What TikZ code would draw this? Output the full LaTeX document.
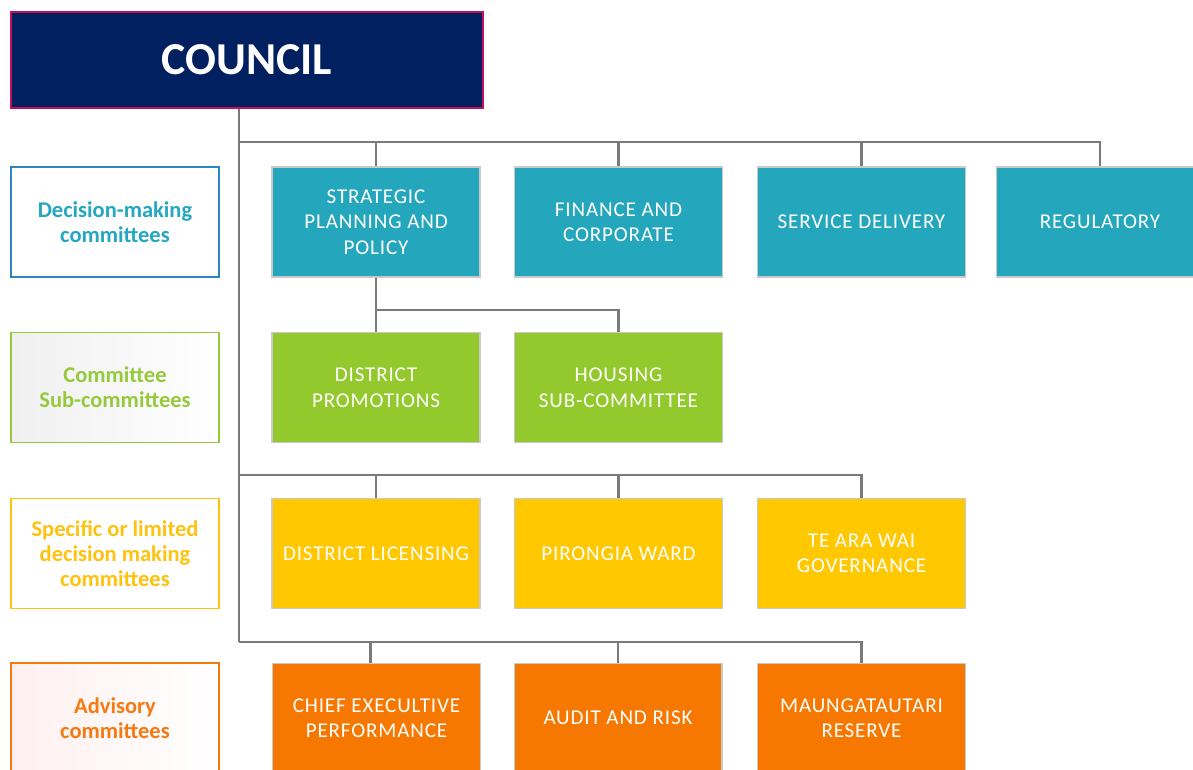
\documentclass[tikz,border=0pt]{standalone}
\usepackage{fontspec}
\setmainfont{Carlito}
\newfontfamily\unitfamily[LetterSpace=4]{Carlito}
\definecolor{navy}{HTML}{002060}
\definecolor{crimson}{HTML}{C0105E}
\definecolor{tblue}{HTML}{2A86BE}
\definecolor{tteal}{HTML}{25A7C1}
\definecolor{teal}{HTML}{24A6BD}
\definecolor{lime}{HTML}{93C92C}
\definecolor{tlime}{HTML}{96CA3C}
\definecolor{amber}{HTML}{FFC800}
\definecolor{tamber}{HTML}{FFC20E}
\definecolor{tangerine}{HTML}{F77800}
\definecolor{ttangerine}{HTML}{F57A12}
\definecolor{frame}{HTML}{C9C9C9}
\definecolor{wire}{HTML}{7A7A7A}
\tikzset{
  unit/.style={draw=frame,line width=0.6pt,minimum width=4.16cm,minimum height=2.2cm,
    align=center,text=white,inner sep=2pt,font=\unitfamily\fontsize{12}{14.5}\selectfont},
  tier/.style={line width=0.9pt,fill=white,minimum width=4.16cm,minimum height=2.2cm,
    align=center,inner sep=2pt,font=\fontsize{12.8}{14.3}\selectfont\bfseries},
  link/.style={draw=wire,line width=1.3pt}
}
\begin{document}
\begin{tikzpicture}[x=0.02cm,y=-0.02cm]
\useasboundingbox (0,0) rectangle (1193,769);
\clip (0,0) rectangle (1193,769);

\node[fill=navy,draw=crimson,line width=0.8pt,minimum width=9.44cm,minimum height=1.92cm,
  text=white,font=\fontsize{26}{30}\selectfont\bfseries] (council) at (247,60) {COUNCIL};

% tiers down the left
\node[tier,draw=tblue,text=tteal] (decision) at (115,222) {Decision-making\\committees};
\node[tier,draw=tlime,text=tlime,left color=black!6,right color=white]
  (subcomm) at (115,387.5) {Committee\\Sub-committees};
\node[tier,draw=tamber,text=tamber] (specific) at (115,553.5) {Specific or limited\\decision making\\committees};
\node[tier,draw=ttangerine,text=ttangerine,left color=red!6,right color=white]
  (advisory) at (115,718) {Advisory\\committees};

% committees
\node[unit,fill=teal] (strategic) at (376,222) {STRATEGIC\\PLANNING AND\\POLICY};
\node[unit,fill=teal] (finance) at (618.5,222) {FINANCE AND\\CORPORATE};
\node[unit,fill=teal] (service) at (861.5,222) {SERVICE DELIVERY};
\node[unit,fill=teal] (regulatory) at (1100,222) {REGULATORY};

\node[unit,fill=lime] (promotions) at (376,387.5) {DISTRICT\\PROMOTIONS};
\node[unit,fill=lime] (housing) at (618.5,387.5) {HOUSING\\SUB-COMMITTEE};

\node[unit,fill=amber] (licensing) at (376,553.5) {DISTRICT LICENSING};
\node[unit,fill=amber] (pirongia) at (618.5,553.5) {PIRONGIA WARD};
\node[unit,fill=amber] (tearawai) at (861.5,553.5) {TE ARA WAI\\GOVERNANCE};

\node[unit,fill=tangerine] (chief) at (376.5,718) {CHIEF EXECULTIVE\\PERFORMANCE};
\node[unit,fill=tangerine] (audit) at (618,718) {AUDIT AND RISK};
\node[unit,fill=tangerine] (maunga) at (861.5,718) {MAUNGATAUTARI\\RESERVE};

% wiring
\coordinate (bus1) at (239,142);
\coordinate (bus2) at (376,310);
\coordinate (bus3) at (239,475);
\coordinate (bus4) at (239,642);
\draw[link] (council.south -| bus1) -- (bus4);
\foreach \n in {strategic,finance,service,regulatory}
  \draw[link] (bus1) -| (\n.north);
\draw[link] (strategic.south) -- (promotions.north);
\draw[link] (bus2) -| (housing.north);
\foreach \n in {licensing,pirongia,tearawai}
  \draw[link] (bus3) -| (\n.north);
\draw[link] (bus4) -| ([xshift=-0.12cm]chief.north);
\foreach \n in {audit,maunga}
  \draw[link] (bus4) -| (\n.north);
\end{tikzpicture}
\end{document}
